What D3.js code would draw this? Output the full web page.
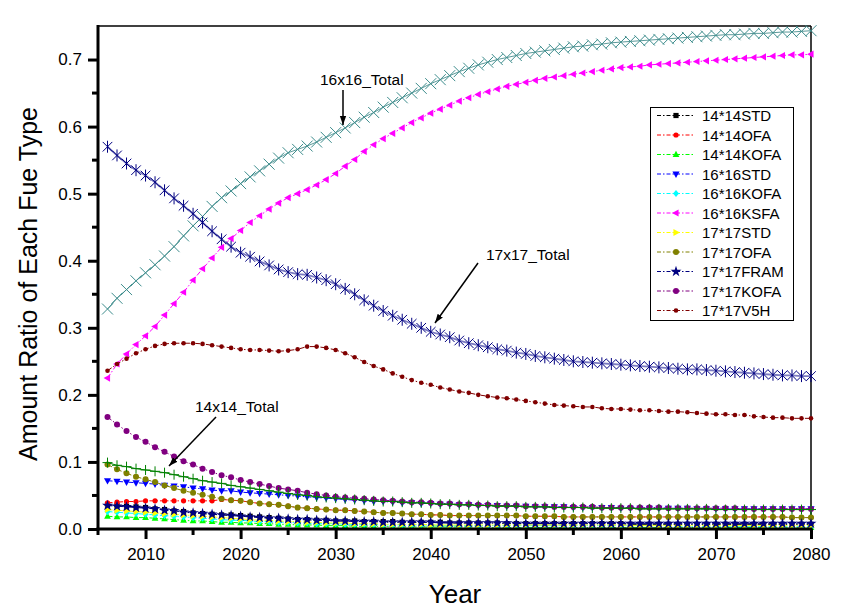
<!DOCTYPE html>
<html><head><meta charset="utf-8">
<script src="https://cdn.jsdelivr.net/npm/d3@7"></script>
<style>
html,body{margin:0;padding:0;background:#fff;}
svg{display:block;font-family:"Liberation Sans",Arial,sans-serif;}
</style></head>
<body><svg id="c" width="851" height="613"></svg>
<script>
const years = [2006,2007,2008,2009,2010,2011,2012,2013,2014,2015,
2016,2017,2018,2019,2020,2021,2022,2023,2024,2025,
2026,2027,2028,2029,2030,2031,2032,2033,2034,2035,
2036,2037,2038,2039,2040,2041,2042,2043,2044,2045,
2046,2047,2048,2049,2050,2051,2052,2053,2054,2055,
2056,2057,2058,2059,2060,2061,2062,2063,2064,2065,
2066,2067,2068,2069,2070,2071,2072,2073,2074,2075,
2076,2077,2078,2079,2080];

const s14STD = [0.036,0.035,0.034,0.033,0.032,0.030,0.029,0.027,0.026,0.024,
0.023,0.022,0.021,0.021,0.020,0.019,0.018,0.017,0.016,0.015,
0.014,0.014,0.013,0.013,0.012,0.012,0.012,0.011,0.011,0.011,
0.011,0.010,0.010,0.010,0.010,0.010,0.009,0.009,0.009,0.009,
0.009,0.009,0.008,0.008,0.008,0.008,0.008,0.008,0.008,0.008,
0.008,0.008,0.008,0.008,0.008,0.007,0.007,0.007,0.007,0.007,
0.007,0.007,0.007,0.007,0.007,0.007,0.007,0.007,0.007,0.007,
0.007,0.007,0.007,0.007,0.007];
const s14OFA = [0.039,0.040,0.041,0.041,0.042,0.042,0.042,0.042,0.042,0.042,
0.042,0.042,0.044,0.043,0.042,0.040,0.038,0.037,0.036,0.034,
0.032,0.031,0.030,0.029,0.028,0.028,0.027,0.026,0.025,0.024,
0.024,0.023,0.022,0.022,0.021,0.021,0.020,0.020,0.020,0.020,
0.020,0.020,0.020,0.020,0.019,0.019,0.019,0.019,0.018,0.018,
0.018,0.018,0.018,0.018,0.018,0.018,0.018,0.018,0.018,0.018,
0.018,0.018,0.018,0.018,0.018,0.018,0.018,0.018,0.018,0.018,
0.018,0.018,0.017,0.017,0.017];
const s14KOFA = [0.019,0.018,0.018,0.017,0.017,0.016,0.015,0.014,0.013,0.012,
0.012,0.011,0.010,0.010,0.009,0.009,0.008,0.008,0.007,0.007,
0.006,0.006,0.006,0.005,0.005,0.005,0.004,0.004,0.004,0.004,
0.003,0.003,0.003,0.003,0.003,0.003,0.003,0.003,0.003,0.003,
0.002,0.002,0.002,0.002,0.002,0.002,0.002,0.002,0.002,0.002,
0.002,0.002,0.002,0.002,0.002,0.002,0.002,0.002,0.002,0.002,
0.002,0.002,0.002,0.002,0.002,0.002,0.002,0.002,0.002,0.002,
0.002,0.002,0.002,0.002,0.002];
const s16STD = [0.072,0.071,0.070,0.069,0.068,0.067,0.065,0.064,0.063,0.061,
0.060,0.058,0.057,0.057,0.055,0.054,0.053,0.052,0.051,0.050,
0.049,0.048,0.047,0.046,0.045,0.044,0.043,0.042,0.041,0.041,
0.040,0.039,0.039,0.038,0.038,0.037,0.037,0.036,0.036,0.035,
0.035,0.035,0.034,0.034,0.034,0.033,0.033,0.033,0.033,0.032,
0.032,0.032,0.032,0.032,0.031,0.031,0.031,0.031,0.031,0.031,
0.031,0.031,0.030,0.030,0.030,0.030,0.030,0.030,0.030,0.030,
0.030,0.030,0.030,0.030,0.030];
const s16KOFA = [0.026,0.025,0.024,0.023,0.022,0.021,0.020,0.019,0.018,0.017,
0.016,0.015,0.014,0.013,0.013,0.012,0.011,0.011,0.010,0.010,
0.009,0.009,0.008,0.008,0.008,0.007,0.007,0.007,0.007,0.006,
0.006,0.006,0.006,0.006,0.006,0.005,0.005,0.005,0.005,0.005,
0.005,0.005,0.005,0.005,0.005,0.005,0.005,0.005,0.005,0.005,
0.005,0.005,0.005,0.005,0.005,0.005,0.005,0.005,0.005,0.005,
0.004,0.004,0.004,0.004,0.004,0.004,0.004,0.004,0.004,0.004,
0.004,0.004,0.004,0.004,0.004];
const s16KSFA = [0.225,0.246,0.261,0.275,0.288,0.302,0.319,0.336,0.353,0.371,
0.388,0.404,0.420,0.433,0.445,0.457,0.467,0.477,0.486,0.494,
0.500,0.506,0.513,0.521,0.530,0.541,0.551,0.563,0.573,0.582,
0.590,0.598,0.606,0.613,0.620,0.626,0.632,0.638,0.643,0.648,
0.652,0.656,0.660,0.663,0.666,0.669,0.672,0.674,0.676,0.678,
0.680,0.682,0.684,0.686,0.688,0.689,0.690,0.692,0.693,0.694,
0.695,0.696,0.697,0.698,0.699,0.700,0.701,0.702,0.703,0.704,
0.705,0.706,0.707,0.707,0.708];
const s17STD = [0.029,0.028,0.027,0.026,0.025,0.024,0.023,0.022,0.021,0.020,
0.019,0.018,0.017,0.016,0.015,0.014,0.013,0.013,0.012,0.011,
0.011,0.010,0.010,0.009,0.009,0.009,0.008,0.008,0.008,0.007,
0.007,0.007,0.007,0.007,0.006,0.006,0.006,0.006,0.006,0.006,
0.006,0.006,0.006,0.006,0.006,0.006,0.006,0.006,0.006,0.006,
0.006,0.006,0.006,0.006,0.006,0.005,0.005,0.005,0.005,0.005,
0.005,0.005,0.005,0.005,0.005,0.005,0.005,0.005,0.005,0.005,
0.005,0.005,0.005,0.005,0.005];
const s17OFA = [0.096,0.089,0.083,0.078,0.074,0.070,0.065,0.061,0.057,0.054,
0.051,0.048,0.045,0.043,0.042,0.040,0.038,0.037,0.036,0.034,
0.032,0.031,0.030,0.029,0.028,0.028,0.027,0.026,0.025,0.024,
0.024,0.023,0.022,0.022,0.021,0.021,0.020,0.020,0.020,0.020,
0.020,0.020,0.020,0.020,0.019,0.019,0.019,0.019,0.018,0.018,
0.018,0.018,0.018,0.018,0.018,0.018,0.018,0.018,0.018,0.018,
0.018,0.018,0.018,0.018,0.018,0.018,0.018,0.018,0.018,0.018,
0.018,0.018,0.017,0.017,0.017];
const s17FRAM = [0.035,0.034,0.033,0.032,0.031,0.030,0.028,0.027,0.025,0.024,
0.023,0.022,0.021,0.020,0.019,0.018,0.017,0.016,0.016,0.015,
0.014,0.014,0.013,0.013,0.012,0.012,0.011,0.011,0.011,0.010,
0.010,0.010,0.010,0.010,0.010,0.009,0.009,0.009,0.009,0.009,
0.009,0.009,0.009,0.008,0.008,0.008,0.008,0.008,0.008,0.008,
0.008,0.008,0.008,0.008,0.008,0.008,0.008,0.008,0.008,0.008,
0.008,0.008,0.008,0.008,0.008,0.008,0.008,0.008,0.008,0.008,
0.008,0.008,0.008,0.008,0.008];
const s17KOFA = [0.167,0.156,0.146,0.137,0.130,0.122,0.115,0.108,0.101,0.096,
0.090,0.085,0.080,0.077,0.073,0.070,0.067,0.064,0.061,0.059,
0.057,0.054,0.052,0.050,0.048,0.047,0.046,0.045,0.044,0.043,
0.042,0.041,0.040,0.040,0.039,0.038,0.038,0.037,0.037,0.036,
0.036,0.035,0.035,0.035,0.034,0.034,0.034,0.033,0.033,0.033,
0.033,0.033,0.032,0.032,0.032,0.032,0.032,0.032,0.032,0.031,
0.031,0.031,0.031,0.031,0.031,0.031,0.031,0.030,0.030,0.030,
0.030,0.030,0.030,0.030,0.030];
const s17V5H = [0.236,0.246,0.254,0.262,0.268,0.273,0.276,0.277,0.277,0.277,
0.276,0.274,0.272,0.270,0.268,0.267,0.267,0.266,0.265,0.266,
0.268,0.272,0.272,0.270,0.267,0.262,0.256,0.249,0.243,0.238,
0.232,0.227,0.222,0.218,0.215,0.211,0.208,0.205,0.203,0.200,
0.198,0.196,0.195,0.193,0.191,0.189,0.187,0.185,0.184,0.183,
0.182,0.182,0.180,0.179,0.179,0.178,0.177,0.177,0.176,0.175,
0.175,0.174,0.173,0.172,0.171,0.171,0.170,0.170,0.168,0.167,
0.166,0.166,0.165,0.165,0.165];
const total14 = [0.099,0.095,0.093,0.090,0.088,0.086,0.084,0.081,0.078,0.075,
0.072,0.070,0.068,0.065,0.063,0.061,0.059,0.057,0.055,0.053,
0.051,0.050,0.048,0.047,0.046,0.045,0.044,0.043,0.042,0.041,
0.041,0.040,0.039,0.039,0.038,0.037,0.037,0.036,0.036,0.035,
0.035,0.034,0.034,0.034,0.033,0.033,0.033,0.032,0.032,0.032,
0.032,0.031,0.031,0.031,0.031,0.031,0.030,0.030,0.030,0.030,
0.030,0.030,0.030,0.030,0.029,0.029,0.029,0.029,0.029,0.029,
0.029,0.029,0.029,0.029,0.029];
const total16 = [0.328,0.344,0.357,0.370,0.382,0.394,0.407,0.421,0.437,0.452,
0.466,0.481,0.494,0.504,0.515,0.525,0.534,0.544,0.553,0.561,
0.566,0.571,0.577,0.584,0.591,0.598,0.606,0.614,0.621,0.629,
0.636,0.643,0.650,0.657,0.664,0.670,0.676,0.682,0.687,0.692,
0.696,0.700,0.703,0.706,0.709,0.711,0.713,0.715,0.717,0.719,
0.720,0.722,0.723,0.725,0.726,0.727,0.728,0.729,0.730,0.731,
0.732,0.733,0.734,0.735,0.736,0.737,0.737,0.738,0.739,0.739,
0.740,0.741,0.741,0.742,0.743];
const total17 = [0.570,0.557,0.545,0.535,0.527,0.517,0.505,0.493,0.482,0.470,
0.457,0.444,0.432,0.421,0.412,0.406,0.399,0.393,0.387,0.383,
0.380,0.379,0.375,0.371,0.365,0.358,0.350,0.341,0.333,0.325,
0.318,0.312,0.306,0.300,0.294,0.290,0.286,0.281,0.277,0.274,
0.271,0.268,0.266,0.263,0.261,0.258,0.256,0.254,0.252,0.250,
0.249,0.248,0.247,0.246,0.245,0.244,0.243,0.242,0.241,0.240,
0.239,0.238,0.238,0.237,0.236,0.235,0.234,0.233,0.232,0.231,
0.230,0.229,0.229,0.228,0.228];

const seriesNames = ["14*14STD","14*14OFA","14*14KOFA","16*16STD","16*16KOFA","16*16KSFA",
  "17*17STD","17*17OFA","17*17FRAM","17*17KOFA","17*17V5H"];
const seriesValues = [s14STD,s14OFA,s14KOFA,s16STD,s16KOFA,s16KSFA,s17STD,s17OFA,s17FRAM,s17KOFA,s17V5H];
const seriesColors = ["#000000","#ff0000","#00ff00","#0000ff","#00ffff","#ff00ff","#ffff00","#808000","#000080","#800080","#800000"];
const seriesMarkers = ["square","circle","triUp","triDown","diamond","triLeft","triRight","circle","star","circle","circle"];
const seriesSizes = [2.6,2.6,3.2,3.4,3.0,3.4,3.4,3.0,3.4,3.0,2.3];

const totalNames = ["14x14_Total","16x16_Total","17x17_Total"];
const totalValues = [total14,total16,total17];
const totalColors = ["#008000","#3c8c8c","#000080"];
const totalLineColors = ["#008000","#5a9a9a","#7a7ac0"];
const totalMarkers = ["plus","cross","asterisk"];
const totalSizes = [5,5.5,6];

const yTicks = [0.0,0.1,0.2,0.3,0.4,0.5,0.6,0.7];
const xTicks = [2010,2020,2030,2040,2050,2060,2070,2080];

const svg = d3.select("#c");
const x = d3.scaleLinear().domain([2005,2080]).range([98,811]);
const y = d3.scaleLinear().domain([0,0.75]).range([529,26]);

function markerPath(type, r){
  switch(type){
    case "square": return `M${-r},${-r}h${2*r}v${2*r}h${-2*r}Z`;
    case "circle": return d3.symbol(d3.symbolCircle, Math.PI*r*r)();
    case "triUp": return `M0,${-r*1.15}L${r*1.05},${r*0.75}L${-r*1.05},${r*0.75}Z`;
    case "triDown": return `M0,${r*1.15}L${r*1.05},${-r*0.75}L${-r*1.05},${-r*0.75}Z`;
    case "triLeft": return `M${-r*1.15},0L${r*0.75},${-r*1.05}L${r*0.75},${r*1.05}Z`;
    case "triRight": return `M${r*1.15},0L${-r*0.75},${-r*1.05}L${-r*0.75},${r*1.05}Z`;
    case "diamond": return `M0,${-r*1.2}L${r},0L0,${r*1.2}L${-r},0Z`;
    case "star": return d3.symbol(d3.symbolStar, r*r*3.2)();
    case "cross": return `M${-r},${-r}L${r},${r}M${-r},${r}L${r},${-r}`;
    case "plus": return `M${-r},0H${r}M0,${-r}V${r}`;
    case "asterisk": {const a=r*0.8; return `M${-a},${-a}L${a},${a}M${-a},${a}L${a},${-a}M0,${-r}V${r}`;}
  }
}

const line = d3.line().x(d=>x(d[0])).y(d=>y(d[1]));

// frame thin lines
svg.append("line").attr("x1",98).attr("x2",811).attr("y1",26).attr("y2",26).attr("stroke","#000").attr("stroke-width",1.5);
svg.append("line").attr("x1",811).attr("x2",811).attr("y1",26).attr("y2",529).attr("stroke","#000").attr("stroke-width",1.5);

// series
const plot = svg.append("g");
seriesNames.forEach((name,i)=>{
  const pts = years.map((yr,j)=>[yr, seriesValues[i][j]]);
  const g = plot.append("g");
  g.append("path").attr("d", line(pts)).attr("fill","none")
    .attr("stroke", seriesColors[i]).attr("stroke-width",1)
    .attr("stroke-dasharray","5,2,1.5,2");
  g.selectAll("path.m").data(pts).join("path").attr("class","m")
    .attr("transform", d=>`translate(${x(d[0])},${y(d[1])})`)
    .attr("d", markerPath(seriesMarkers[i], seriesSizes[i]))
    .attr("fill", seriesColors[i]).attr("stroke","none");
});
totalNames.forEach((name,i)=>{
  const pts = years.map((yr,j)=>[yr, totalValues[i][j]]);
  const g = plot.append("g");
  g.append("path").attr("d", line(pts)).attr("fill","none")
    .attr("stroke", totalLineColors[i]).attr("stroke-width", i===2?1.8:1);
  g.selectAll("path.m").data(pts).join("path").attr("class","m")
    .attr("transform", d=>`translate(${x(d[0])},${y(d[1])})`)
    .attr("d", markerPath(totalMarkers[i], totalSizes[i]))
    .attr("fill","none").attr("stroke", totalColors[i]).attr("stroke-width",1);
});

// axes
const xAxis = d3.axisBottom(x).tickValues(xTicks).tickFormat(d3.format("d")).tickSize(10).tickPadding(9);
const gx = svg.append("g").attr("transform","translate(0,529)").call(xAxis);
gx.select(".domain").attr("stroke","#000").attr("stroke-width",3).attr("d","M96.5,0H812.5");
gx.selectAll(".tick line").attr("stroke-width",3);
gx.selectAll(".tick text").attr("font-size",17).attr("font-family","Liberation Sans, Arial, sans-serif").attr("fill","#000");
const xMinor = [2005,2015,2025,2035,2045,2055,2065,2075];
gx.selectAll("line.minor").data(xMinor).join("line").attr("class","minor")
  .attr("x1",d=>x(d)).attr("x2",d=>x(d)).attr("y1",0).attr("y2",6).attr("stroke","#000").attr("stroke-width",3);

const yAxis = d3.axisLeft(y).tickValues(yTicks).tickFormat(d3.format(".1f")).tickSize(10).tickPadding(6);
const gy = svg.append("g").attr("transform","translate(98,0)").call(yAxis);
gy.select(".domain").attr("stroke","#000").attr("stroke-width",3).attr("d","M0,25V530.5");
gy.selectAll(".tick line").attr("stroke-width",3);
gy.selectAll(".tick text").attr("font-size",17).attr("font-family","Liberation Sans, Arial, sans-serif").attr("fill","#000");
const yMinor = [0.05,0.15,0.25,0.35,0.45,0.55,0.65];
gy.selectAll("line.minor").data(yMinor).join("line").attr("class","minor")
  .attr("y1",d=>y(d)).attr("y2",d=>y(d)).attr("x1",0).attr("x2",-6).attr("stroke","#000").attr("stroke-width",3);

// axis titles
svg.append("text").attr("x",455).attr("y",603).attr("text-anchor","middle")
  .attr("font-size",26).text("Year");
svg.append("text").attr("transform","translate(37,284) rotate(-90)").attr("text-anchor","middle")
  .attr("font-size",25).text("Amount Ratio of Each Fue Type");

// annotations
const defs = svg.append("defs");
defs.append("marker").attr("id","ah").attr("viewBox","0 0 10 10").attr("refX",10).attr("refY",5)
  .attr("markerWidth",9).attr("markerHeight",9).attr("markerUnits","userSpaceOnUse").attr("orient","auto")
  .append("path").attr("d","M0,1.5L10,5L0,8.5Z").attr("fill","#000");
const ann = [
  {t:"16x16_Total", tx:320, ty:85, x1:343, y1:90, x2:343, y2:125},
  {t:"17x17_Total", tx:486, ty:260, x1:478, y1:263, x2:435, y2:323},
  {t:"14x14_Total", tx:195, ty:412, x1:216, y1:417, x2:169, y2:466}
];
ann.forEach(a=>{
  svg.append("text").attr("x",a.tx).attr("y",a.ty).attr("font-size",15.5).text(a.t);
  svg.append("line").attr("x1",a.x1).attr("y1",a.y1).attr("x2",a.x2).attr("y2",a.y2)
    .attr("stroke","#000").attr("stroke-width",1.5).attr("marker-end","url(#ah)");
});

// legend
const lg = svg.append("g");
lg.append("rect").attr("x",650.5).attr("y",107.5).attr("width",143).attr("height",213)
  .attr("fill","#fff").attr("stroke","#000").attr("stroke-width",1);
seriesNames.forEach((name,i)=>{
  const yy = 115.5 + i*19.5;
  lg.append("line").attr("x1",657).attr("x2",693).attr("y1",yy).attr("y2",yy)
    .attr("stroke",seriesColors[i]).attr("stroke-width",1).attr("stroke-dasharray","4,2,1.5,2");
  lg.append("path").attr("transform",`translate(676,${yy})`).attr("d",markerPath(seriesMarkers[i],seriesSizes[i]))
    .attr("fill",seriesColors[i]);
  lg.append("text").attr("x",702).attr("y",yy+5.5).attr("font-size",15).text(name);
});
</script></body></html>
